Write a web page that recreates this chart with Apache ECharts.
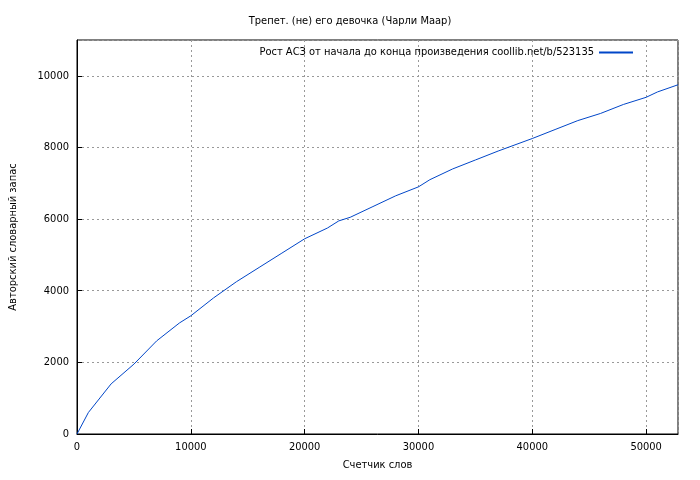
<!DOCTYPE html>
<html><head><meta charset="utf-8">
<script src="https://cdn.jsdelivr.net/npm/echarts@6/dist/echarts.min.js"></script>
<style>html,body{margin:0;background:#fff}#c{width:700px;height:480px}</style>
</head><body><div id="c"></div>
<script>
const words = [0,1000,3000,5000,7000,9000,10000,12000,14000,16000,18000,20000,22000,23000,24000,26000,28000,30000,31000,33000,35000,37000,40000,42000,44000,46000,48000,50000,51000,52800];
const vocab = [0,600,1400,1950,2600,3100,3300,3800,4250,4650,5050,5450,5750,5950,6050,6350,6650,6900,7100,7400,7650,7900,8250,8500,8750,8950,9200,9400,9550,9750];
const title = 'Трепет. (не) его девочка (Чарли Маар)';
const seriesName = 'Рост АСЗ от начала до конца произведения coollib.net/b/523135';
const F = 'DejaVu Sans Condensed, DejaVu Sans';
const chart = echarts.init(document.getElementById('c'));
const grid = {lineStyle:{color:'#999',type:[2,3],width:1}};
chart.setOption({
  animation:false,
  textStyle:{fontFamily:F},
  title:{text:title,left:'center',top:11,textStyle:{fontFamily:F,fontSize:11,fontWeight:'normal',color:'#000'}},
  legend:{right:62,top:42,itemWidth:34,itemHeight:2,icon:'rect',itemGap:6,align:'right',
    textStyle:{fontFamily:F,fontSize:11,color:'#000'},data:[seriesName]},
  grid:{left:76,right:22,top:40,bottom:46,show:true,borderColor:'#000',borderWidth:1},
  xAxis:{type:'value',min:0,max:52800,interval:10000,name:'Счетчик слов',nameLocation:'middle',nameGap:26,
    nameTextStyle:{fontFamily:F,fontSize:11,color:'#000'},
    axisLine:{lineStyle:{color:'#000'}},axisTick:{inside:true,lineStyle:{color:'#000'}},
    axisLabel:{color:'#000',fontSize:11,fontFamily:F,showMaxLabel:false,formatter:v=>String(v)},splitLine:Object.assign({show:true},grid)},
  yAxis:{type:'value',min:0,max:11000,interval:2000,name:'Авторский словарный запас',nameLocation:'middle',nameGap:58,
    nameTextStyle:{fontFamily:F,fontSize:11,color:'#000'},
    axisLine:{lineStyle:{color:'#000'}},axisTick:{inside:true,lineStyle:{color:'#000'}},
    axisLabel:{color:'#000',fontSize:11,fontFamily:F,showMaxLabel:false,formatter:v=>String(v)},splitLine:Object.assign({show:true},grid)},
  series:[{name:seriesName,type:'line',data:words.map((w,i)=>[w,vocab[i]]),showSymbol:false,
    lineStyle:{color:'#0046c8',width:1},itemStyle:{color:'#0046c8'}}]
});
</script></body></html>
